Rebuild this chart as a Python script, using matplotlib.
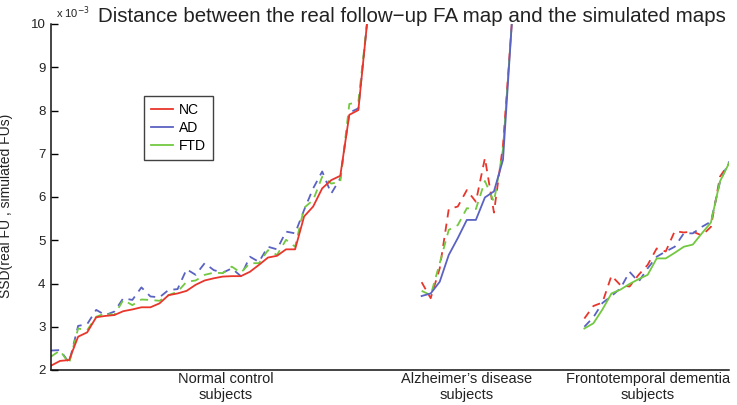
import numpy as np
import matplotlib
matplotlib.use("Agg")
import matplotlib.pyplot as plt

plt.rcParams['font.family'] = ['Liberation Sans', 'DejaVu Sans']

# ---- data (SSD x 1e-3) ----
groups = ["Normal control\nsubjects", "Alzheimer’s disease\nsubjects", "Frontotemporal dementia\nsubjects"]
models = ["NC", "AD", "FTD"]

# Normal control subjects
nc_nc = [2.10, 2.21, 2.23, 2.77, 2.87, 3.22, 3.25, 3.27, 3.36, 3.40, 3.45, 3.45, 3.54, 3.73, 3.77,
         3.83, 3.97, 4.07, 4.12, 4.16, 4.17, 4.17, 4.27, 4.43, 4.60, 4.64, 4.79, 4.79, 5.55, 5.78,
         6.20, 6.39, 6.49, 7.90, 8.01, 10.1]
nc_ad = [2.45, 2.46, 2.17, 3.02, 3.06, 3.39, 3.27, 3.35, 3.66, 3.62, 3.91, 3.70, 3.68, 3.85, 3.87,
         4.33, 4.20, 4.47, 4.31, 4.25, 4.35, 4.17, 4.62, 4.50, 4.85, 4.79, 5.20, 5.16, 5.70, 6.20,
         6.59, 6.08, 6.43, 7.95, 8.05, 10.1]
nc_ftd = [2.31, 2.45, 2.15, 2.96, 2.92, 3.23, 3.31, 3.27, 3.62, 3.50, 3.63, 3.62, 3.60, 3.73, 3.81,
          4.04, 4.07, 4.20, 4.25, 4.24, 4.39, 4.25, 4.47, 4.47, 4.77, 4.66, 5.01, 4.85, 5.75, 5.93,
          6.47, 6.31, 6.35, 8.15, 8.20, 10.1]

# Alzheimer's disease subjects
ad_ad = [3.71, 3.77, 4.04, 4.66, 5.05, 5.47, 5.47, 5.99, 6.13, 6.86, 10.1]
ad_nc = [4.03, 3.66, 4.35, 5.72, 5.78, 6.16, 5.89, 6.90, 5.64, 7.20, 10.1]
ad_ftd = [3.83, 3.73, 4.47, 5.24, 5.35, 5.74, 5.72, 6.37, 5.89, 7.10, 10.1]

# Frontotemporal dementia subjects
ftd_ftd = [2.96, 3.08, 3.40, 3.77, 3.86, 3.99, 4.10, 4.20, 4.58, 4.58, 4.71, 4.85, 4.90, 5.16,
           5.41, 6.36, 6.78]
ftd_nc = [3.19, 3.48, 3.56, 4.18, 3.96, 3.93, 4.20, 4.43, 4.81, 4.74, 5.21, 5.18, 5.20, 5.11,
          5.31, 6.47, 6.78]
ftd_ad = [3.00, 3.22, 3.55, 3.71, 3.89, 4.27, 4.04, 4.35, 4.62, 4.74, 4.85, 5.16, 5.16, 5.31,
          5.43, 6.35, 6.82]

yticks = [2, 3, 4, 5, 6, 7, 8, 9, 10]
gap_before = [0, 5, 7]   # empty subject slots between groups

colors = {"NC": "#e8362c", "AD": "#5a62c2", "FTD": "#72c840"}

# ---- figure ----
fig = plt.figure(figsize=(7.37, 4.05), dpi=100)
ax = fig.add_axes([51 / 737, 1 - 370 / 405, 678 / 737, 346 / 405])

series = [
    {"NC": nc_nc, "AD": nc_ad, "FTD": nc_ftd},
    {"NC": ad_nc, "AD": ad_ad, "FTD": ad_ftd},
    {"NC": ftd_nc, "AD": ftd_ad, "FTD": ftd_ftd},
]
own = ["NC", "AD", "FTD"]

start = 1
for gi, grp in enumerate(series):
    start += gap_before[gi]
    n = len(grp["NC"])
    x = np.arange(start, start + n)
    for m in models:
        if m == own[gi]:
            continue
        ax.plot(x, grp[m], color=colors[m], lw=1.3, ls=(0, (4.5, 3.5)))
    ax.plot(x, grp[own[gi]], color=colors[own[gi]], lw=1.3, ls='-')
    start += n

ax.set_xlim(1, start - 1)
ax.set_ylim(2, 10)
ax.set_yticks(yticks)
ax.set_yticklabels([str(t) for t in yticks], fontsize=9.5, color='#222222')
ax.set_xticks([])
ax.tick_params(axis='y', direction='in', length=5, width=1, pad=4)
ax.spines['top'].set_visible(False)
ax.spines['right'].set_visible(False)
for s in ['left', 'bottom']:
    ax.spines[s].set_linewidth(1.1)
    ax.spines[s].set_color('#111111')

# category labels under the axis
label_px = [226, 467, 648]
for lab, px in zip(groups, label_px):
    fig.text(px / 737, 1 - 372 / 405, lab, ha='center', va='top', fontsize=10.5,
             color='#222222', linespacing=1.15)

ax.set_ylabel("SSD(real FU , simulated FUs)", fontsize=10, color='#222222')
ax.yaxis.set_label_coords((13 - 51) / 678, (370 - 206) / 346)

fig.text(412 / 737, 1 - 16 / 405,
         "Distance between the real follow\u2212up FA map and the simulated maps",
         ha='center', va='center', fontsize=14.8, color='#222222')
fig.text(56 / 737, 1 - 13 / 405, r"x 10$^{-3}$", ha='left', va='center', fontsize=8,
         color='#222222')

handles = [plt.Line2D([], [], color=colors[m], lw=1.3) for m in models]
leg = ax.legend(handles, models, loc='upper left', bbox_to_anchor=((144 - 51) / 678, (370 - 96) / 346),
                fontsize=10, frameon=True, fancybox=False, handlelength=1.6, handletextpad=0.4,
                borderpad=0.5, labelspacing=0.3, borderaxespad=0)
leg.get_frame().set_edgecolor('#111111')
leg.get_frame().set_linewidth(1.0)

fig.savefig("out.png", dpi=100)
